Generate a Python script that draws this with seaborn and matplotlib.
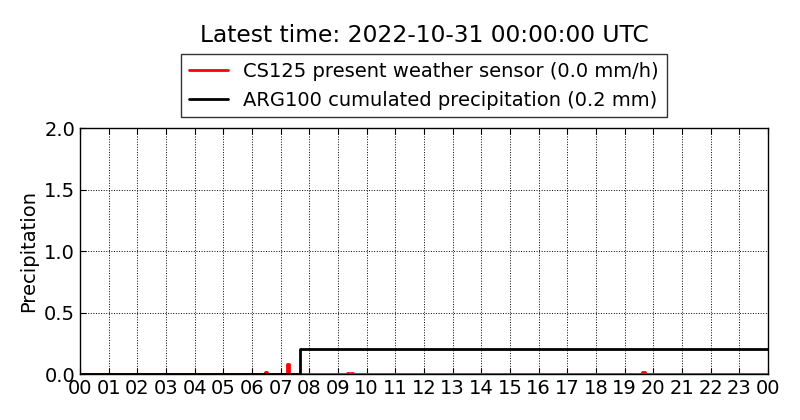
import numpy as np
import pandas as pd
import matplotlib
matplotlib.use("Agg")
import matplotlib.pyplot as plt
import seaborn as sns

title = "Latest time: 2022-10-31 00:00:00 UTC"
red_label = "CS125 present weather sensor (0.0 mm/h)"
black_label = "ARG100 cumulated precipitation (0.2 mm)"
ylabel = "Precipitation"
hour_labels = [f"{h:02d}" for h in range(24)] + ["00"]

# CS125 rain rate spikes (hour of day, mm/h)
red_hours = [0.0, 6.45, 6.52, 7.22, 7.30, 9.30, 9.37, 9.45, 9.52, 19.62, 19.70, 24.0]
red_values = [0.0, 0.02, 0.0, 0.08, 0.0, 0.01, 0.0, 0.01, 0.0, 0.02, 0.0, 0.0]

# ARG100 cumulated precipitation (hour, mm)
black_hours = [0.0, 7.67, 24.0]
black_values = [0.0, 0.2, 0.2]

sns.set_style("white")
plt.rcParams['font.family'] = ['DejaVu Sans']
plt.rcParams['text.color'] = 'black'
plt.rcParams['axes.labelcolor'] = 'black'
plt.rcParams['xtick.color'] = 'black'
plt.rcParams['ytick.color'] = 'black'

fig = plt.figure(figsize=(8, 4.2), dpi=100)
ax = fig.add_axes([0.1, 0.1095, 0.86, 0.5855])

red_df = pd.DataFrame({"h": red_hours, "v": red_values})
black_df = pd.DataFrame({"h": black_hours, "v": black_values})

sns.lineplot(data=red_df, x="h", y="v", ax=ax, color="red", lw=2,
             drawstyle="steps-post", label=red_label, zorder=3)
sns.lineplot(data=black_df, x="h", y="v", ax=ax, color="black", lw=2,
             drawstyle="steps-post", label=black_label, zorder=3.1)

ax.set_xlim(0, 24)
ax.set_ylim(0, 2.0)
ax.set_xticks(range(25))
ax.set_xticklabels(hour_labels)
ax.set_yticks([0.0, 0.5, 1.0, 1.5, 2.0])
ax.set_yticklabels(["0.0", "0.5", "1.0", "1.5", "2.0"])
ax.tick_params(axis="x", labelsize=14, direction="in", length=4, color="black",
               top=True, bottom=True, labelcolor="black")
ax.tick_params(axis="y", labelsize=14, direction="in", length=4, color="black",
               left=True, labelcolor="black")
ax.set_xlabel("")
ax.set_ylabel(ylabel, fontsize=14, color="black")
ax.grid(True, color="black", linestyle=":", linewidth=0.7)
for s in ax.spines.values():
    s.set_color("black")
    s.set_linewidth(1)

leg = ax.legend(loc="lower center", bbox_to_anchor=(0.5, 1.0), fontsize=14,
                frameon=True, fancybox=False, edgecolor="black",
                borderaxespad=0.55, handlelength=2.0)
leg.get_frame().set_linewidth(1)
for t in leg.get_texts():
    t.set_color("black")
fig.suptitle(title, fontsize=16.8, x=0.53, y=0.942, color="black")

fig.savefig("out.png", dpi=100, facecolor="white")
